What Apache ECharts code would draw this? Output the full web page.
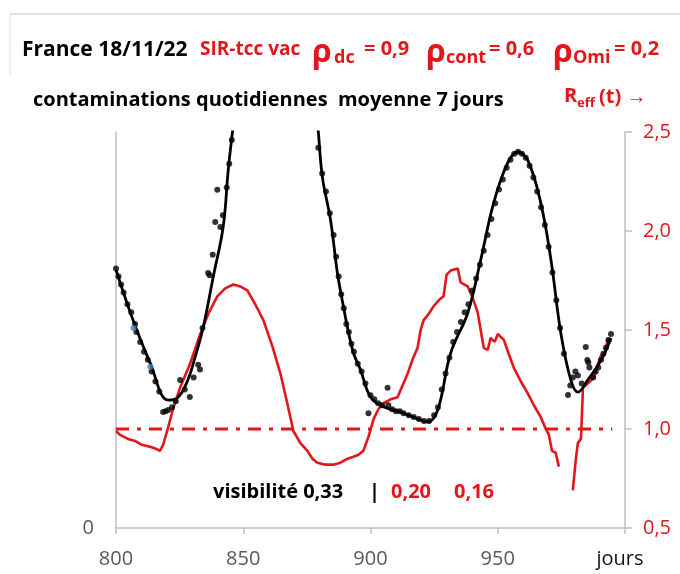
<!DOCTYPE html>
<html>
<head>
<meta charset="utf-8">
<script src="https://cdn.jsdelivr.net/npm/echarts@6/dist/echarts.min.js"></script>
<style>
  html, body { margin: 0; padding: 0; background: #fff; }
  #chart { width: 680px; height: 574px; }
</style>
</head>
<body>
<div id="chart"></div>
<script>
  // x axis: days
  var xTicks = [800, 850, 900, 950, 1000];
  var rTicks = [0.5, 1.0, 1.5, 2.0, 2.5];

  // model curve (daily contaminations, arbitrary units, left axis)
  var modelDays = [800, 806.7, 813.4, 820.5, 824, 828, 831, 834.3, 838.2, 842.1, 844.1, 845.7,
    848, 852, 858, 863, 868, 873, 877, 879.5, 881.1, 884.3, 887, 889.4, 890.9, 893.3, 896.1,
    900, 905.1, 911.8, 916.9, 922.4, 926.4, 931.5, 938.2, 943.3, 948.4, 953.9, 957.9, 961.8,
    966.9, 970.9, 974.8, 978.7, 981.5, 985.4, 990.6, 994.5];
  var modelVals = [65.2, 52.5, 41.7, 32.3, 32.8, 37, 43, 50.8, 63.4, 76, 90.4, 99.7,
    112, 130, 145, 150, 148, 135, 117, 100, 88.6, 77.8, 64.4, 55.8, 50.8, 44.2, 39.9,
    33.1, 30.6, 29.3, 28, 26.8, 29.8, 44.2, 54.3, 67.7, 82.1, 92.2, 94.9, 92.9,
    82.1, 67.7, 49.2, 37.4, 34.3, 37.4, 42.4, 48];

  // observed daily points (black dots)
  var dotDays = [800, 801, 802, 803, 804.5, 806, 807.5, 808, 809.5, 811, 812.5, 814, 815.5, 817,
    818.5, 819.5, 820.5, 822, 823.5, 825.2, 827, 829, 830.5, 832.3, 833, 834, 836.2, 836.8,
    838, 839, 839.8, 841, 842, 843.5, 844.5, 845.5,
    879.5, 881, 882.5, 884, 885.5, 886.5, 887.5, 888.5, 889.5, 890.5, 891.5, 892.5, 893.5,
    895, 896.5, 898, 899.2, 900, 901.5, 903, 904.5, 906.7, 907, 908.5, 910, 911.5, 913, 915,
    917, 919, 921, 923, 925, 926.5, 928, 929.5, 931, 932.5, 934, 935.5, 937, 938.5, 940,
    941.5, 943, 944.5, 946, 947.5, 949, 950.5, 952, 953.5, 955, 956.5, 958, 959.5, 961,
    962.5, 964, 965.5, 967, 968.5, 970, 971.5, 973, 974.5, 976, 977.6, 978.5, 979.5, 980.5,
    981.5, 983, 984.6, 985.2, 985.6, 986, 987.5, 988.5, 989.5, 990.6, 991.5, 992.5, 993.5, 994.5];
  var dotVals = [65.5, 63.5, 61.5, 59.5, 56.5, 54.5, 51.5, 49.5, 47, 44.5, 42.5, 39.5, 37, 34.5,
    29.3, 29.5, 29.8, 30.5, 32, 37.4, 35, 33.1, 38, 41.2, 40, 50.5, 64.4, 63.8,
    69, 77.3, 85.4, 76, 79, 86, 92, 98,
    96, 89.5, 85, 79.5, 74, 68.5, 63.5, 59, 55.5, 51.5, 49.5, 46.5, 44.5,
    41.5, 39.5, 36.5, 29, 33.5, 32.5, 31.5, 31, 35.4, 31, 30, 29.5, 29.5, 29, 28.5,
    28, 27.5, 27, 27, 28.5, 30.5, 35, 39, 43, 47, 49.5, 52, 54.5, 56.5, 60,
    63, 66.5, 70, 74, 78, 82, 85.5, 88, 91, 93, 94.5, 95, 94.5, 93.5,
    91.5, 88.5, 85, 81, 76.5, 71, 64.5, 57.5, 50.5, 44, 33.6, 36, 38, 39.5,
    38.5, 36.5, 45.7, 42.4, 41.8, 40.5, 38, 39.5, 40.5, 42.5, 44, 45.5, 47.5, 49];

  var blueDays = [806.9, 813.5];
  var blueVals = [50.5, 40.7];

  // effective reproduction number (right axis)
  var reffDays = [800, 801.6, 803.1, 804.7, 807.5, 810.2, 813.4, 815.7, 817.3, 818.5, 820.1,
    822.4, 825.2, 829.1, 833.1, 836.2, 839.8, 842.9, 846.1, 848.8, 851.6, 854.7, 857.9, 861.4,
    864.6, 867.3, 869.7, 872.4, 875.2, 877.2, 879.1, 882.3, 885.4, 888.2, 891, 893.3, 895.3,
    897.2, 899.2, 901.2, 903.1, 905.1, 907.9, 910.6, 912.6, 914.6, 916.5, 918.5, 919.7, 920.9,
    922.8, 924.8, 926.8, 928.7, 929.9, 931.5, 934.3, 935.4, 938.2, 940.2, 942.1, 943.3, 944.5,
    946.1, 947.2, 948.8, 950, 952.4, 954.3, 956.3, 959.1, 961.8, 964.2, 966.9, 968.9, 970.1,
    971.3, 972.8, 974, 976.5, 979.5, 980.7, 981.5, 982.7, 983.5, 985.4, 987.8, 989.4, 990.6,
    992.1, 993.3, 994.5];
  var reffVals = [0.99, 0.97, 0.96, 0.95, 0.94, 0.92, 0.91, 0.90, 0.89, 0.92, 0.99,
    1.10, 1.21, 1.33, 1.48, 1.58, 1.67, 1.71, 1.73, 1.72, 1.70, 1.63, 1.55, 1.42,
    1.28, 1.13, 0.99, 0.93, 0.89, 0.85, 0.83, 0.82, 0.82, 0.83, 0.85, 0.86, 0.87,
    0.89, 0.96, 1.05, 1.10, 1.13, 1.15, 1.16, 1.22, 1.28, 1.35, 1.41, 1.50, 1.55,
    1.58, 1.62, 1.65, 1.67, 1.78, 1.80, 1.81, 1.74, 1.72, 1.66, 1.59, 1.50, 1.41,
    1.40, 1.46, 1.44, 1.48, 1.45, 1.38, 1.31, 1.24, 1.18, 1.12, 1.06, 1.00, 0.97,
    0.89, 0.88, 0.81, null, 0.69, 0.85, 0.93, 0.95, 1.21, 1.23, 1.26, 1.33, 1.37,
    1.38, 1.46, 1.44];

  // Reff = 1 reference
  var refDays = [800, 995];
  var refVals = [1, 1];

  var RED = '#e3161b';
  var FONT = '"Open Sans", "Liberation Sans", sans-serif';

  function zip(a, b) {
    var out = [];
    for (var i = 0; i < a.length; i++) out.push([a[i], b[i]]);
    return out;
  }

  function txt(x, y, s, size, color, weight) {
    return {
      type: 'text', x: x, y: y,
      style: {
        text: s, fill: color, font: (weight || 'normal') + ' ' + size + 'px ' + FONT,
        textVerticalAlign: 'middle', verticalAlign: 'middle'
      }
    };
  }

  var chart = echarts.init(document.getElementById('chart'), null, { renderer: 'canvas' });

  chart.setOption({
    animation: false,
    backgroundColor: '#fff',
    grid: { left: 116, right: 55, top: 132, bottom: 46, containLabel: false },
    xAxis: {
      type: 'value', min: xTicks[0], max: xTicks[xTicks.length - 1], interval: 50,
      axisLine: { lineStyle: { color: '#bfbfbf', width: 1.5 } },
      axisTick: { inside: false, length: 6, lineStyle: { color: '#bfbfbf', width: 1.5 } },
      axisLabel: {
        margin: 21, fontSize: 20, fontFamily: FONT, color: '#595959',
        formatter: function(v) { return v === 1000 ? '{j|jours}' : v; },
        rich: { j: { fontSize: 20, fontFamily: FONT, color: '#111', padding: [0, 10, 0, 0] } }
      },
      splitLine: { show: false }
    },
    yAxis: [{
      type: 'value', min: 0, max: 100, interval: 100, position: 'left',
      axisLine: { show: true, lineStyle: { color: '#bfbfbf', width: 1.5 } },
      axisTick: { show: false },
      axisLabel: {
        margin: 22, fontSize: 20, fontFamily: FONT, color: '#595959',
        formatter: function(v) { return v === 0 ? '0' : ''; }
      },
      splitLine: { show: false }
    }, {
      type: 'value', min: rTicks[0], max: rTicks[rTicks.length - 1], interval: 0.5, position: 'right',
      axisLine: { show: true, lineStyle: { color: '#bfbfbf', width: 1.5 } },
      axisTick: { show: true, length: 7, lineStyle: { color: '#bfbfbf', width: 1.5 } },
      axisLabel: {
        margin: 18, fontSize: 20, fontFamily: FONT, color: RED,
        formatter: function(v) { return v.toFixed(1).replace('.', ','); }
      },
      splitLine: { show: false }
    }],
    series: [{
      type: 'line', yAxisIndex: 1, data: zip(refDays, refVals), symbol: 'none',
      lineStyle: { color: RED, width: 3, type: [13, 8, 4, 8] }, z: 1
    }, {
      type: 'line', yAxisIndex: 1, data: zip(reffDays, reffVals), symbol: 'none',
      connectNulls: false, lineStyle: { color: RED, width: 2.6 }, z: 2
    }, {
      type: 'line', yAxisIndex: 0, data: zip(modelDays, modelVals), symbol: 'none',
      smooth: 0.4, clip: true, lineStyle: { color: '#000', width: 2.8 }, z: 3
    }, {
      type: 'scatter', yAxisIndex: 0, data: zip(dotDays, dotVals), symbolSize: 6,
      itemStyle: { color: '#000' }, z: 4
    }, {
      type: 'scatter', yAxisIndex: 0, data: zip(blueDays, blueVals), symbolSize: 6,
      itemStyle: { color: '#3f7fc0' }, z: 5
    }],
    graphic: [
      { type: 'line', shape: { x1: 10, y1: 14, x2: 680, y2: 14 }, style: { stroke: '#d9d9d9', lineWidth: 1.5 } },
      { type: 'line', shape: { x1: 10, y1: 14, x2: 10, y2: 75 }, style: { stroke: '#e6e6e6', lineWidth: 1.5 } },
      txt(22, 50, 'France 18/11/22', 21, '#000', 'bold'),
      txt(200, 50, 'SIR-tcc vac', 19, RED, 'bold'),
      txt(312, 53, 'ρ', 32, RED, 'bold'),
      txt(334, 58, 'dc', 18, RED, 'bold'),
      txt(364, 49, '= 0,9', 20, RED, 'bold'),
      txt(426, 53, 'ρ', 32, RED, 'bold'),
      txt(446, 58, 'cont', 18, RED, 'bold'),
      txt(489, 49, '= 0,6', 20, RED, 'bold'),
      txt(553, 53, 'ρ', 32, RED, 'bold'),
      txt(573, 58, 'Omi', 18, RED, 'bold'),
      txt(614, 49, '= 0,2', 20, RED, 'bold'),
      txt(33, 100, 'contaminations quotidiennes  moyenne 7 jours', 20, '#000', 'bold'),
      txt(564, 96, 'R', 20, RED, 'bold'),
      txt(577, 103, 'eff', 13, RED, 'bold'),
      txt(599, 97, '(t) \u2192', 20, RED, 'bold'),
      txt(213, 492, 'visibilité 0,33', 20, '#000', 'bold'),
      txt(369, 492, '|', 20, '#000', 'bold'),
      txt(391, 492, '0,20', 20, RED, 'bold'),
      txt(454, 492, '0,16', 20, RED, 'bold')
    ]
  });
</script>
</body>
</html>
